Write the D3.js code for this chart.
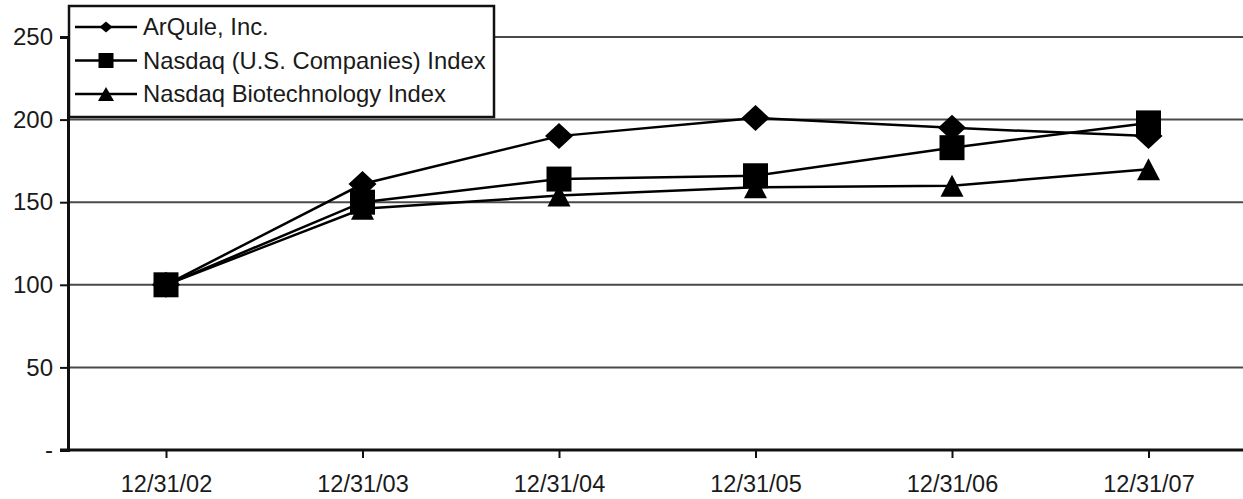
<!DOCTYPE html>
<meta charset="utf-8">
<style>
  body { margin: 0; background: #fff; }
  text { font-family: "Liberation Sans", Arial, sans-serif; fill: #1a1a1a; }
  .grid line { stroke: #4a4a4a; stroke-width: 2; }
  .series .ln { fill: none; stroke: #000; stroke-width: 2.5; }
</style>
<body>
<script src="https://cdn.jsdelivr.net/npm/d3@7/dist/d3.min.js"></script>
<script>

  var dates = ["12/31/02", "12/31/03", "12/31/04", "12/31/05", "12/31/06", "12/31/07"];
  var arqule = [100, 161, 190, 201, 195, 190];
  var nasdaq = [100, 150, 164, 166, 183, 198];
  var biotech = [100, 146, 154, 159, 160, 170];
  var yTicks = [0, 50, 100, 150, 200, 250];

  // marker shapes: width, height
  function diamond(w, h) { return "M0," + (-h/2) + "L" + (w/2) + ",0L0," + (h/2) + "L" + (-w/2) + ",0Z"; }
  function square(w, h) { return "M" + (-w/2) + "," + (-h/2) + "h" + w + "v" + h + "h" + (-w) + "Z"; }
  function triangle(w, h) { return "M0," + (-h/2) + "L" + (w/2) + "," + (h/2) + "L" + (-w/2) + "," + (h/2) + "Z"; }

  var series = [
    {name: "Nasdaq Biotechnology Index", values: biotech, shape: triangle, mk: [23, 22], leg: [16, 14]},
    {name: "Nasdaq (U.S. Companies) Index", values: nasdaq, shape: square, mk: [25, 25], leg: [15, 15]},
    {name: "ArQule, Inc.", values: arqule, shape: diamond, mk: [28, 26], leg: [13, 11]}
  ];
  var legendOrder = [series[2], series[1], series[0]];

  var W = 1243, H = 499;
  var left = 68, bottom = 450;

  var svg = d3.select("body").append("svg").attr("width", W).attr("height", H);

  var x = d3.scalePoint().domain(dates).range([166, 1148.5]);
  var y = d3.scaleLinear().domain([0, 250]).range([bottom, 37]);

  // gridlines
  svg.append("g").attr("class", "grid")
    .selectAll("line").data(yTicks.filter(d => d > 0)).enter().append("line")
    .attr("x1", left).attr("x2", W)
    .attr("y1", d => y(d)).attr("y2", d => y(d));

  // y axis
  var yAxis = svg.append("g").attr("transform", "translate(" + left + ",0)")
    .call(d3.axisLeft(y).tickValues(yTicks).tickSize(8).tickPadding(7)
      .tickFormat(d => d === 0 ? "-" : d));
  yAxis.select(".domain").attr("stroke", "#111").attr("stroke-width", 3);
  yAxis.selectAll(".tick line").attr("stroke", "#111").attr("stroke-width", 2);
  yAxis.selectAll("text").style("font-size", "24px");

  // x axis
  var xAxis = svg.append("g").attr("transform", "translate(0," + bottom + ")")
    .call(d3.axisBottom(x).tickSize(8).tickPadding(17));
  xAxis.select(".domain").attr("d", "M" + (left - 8) + ",0H" + W).attr("stroke", "#111").attr("stroke-width", 3);
  xAxis.selectAll(".tick line").attr("stroke", "#111").attr("stroke-width", 2);
  xAxis.selectAll("text").style("font-size", "23.5px");

  var line = d3.line().x((d, i) => x(dates[i])).y(d => y(d));

  var sg = svg.selectAll(".series").data(series).enter().append("g").attr("class", "series");
  sg.append("path").attr("class", "ln").attr("d", d => line(d.values));
  sg.each(function(s) {
    d3.select(this).selectAll(".mk").data(s.values).enter().append("path")
      .attr("class", "mk")
      .attr("d", s.shape(s.mk[0], s.mk[1]))
      .attr("transform", (d, i) => "translate(" + x(dates[i]) + "," + y(d) + ")")
      .attr("fill", "#000");
  });

  // legend
  var lg = svg.append("g");
  lg.append("rect").attr("x", 69).attr("y", 6).attr("width", 425).attr("height", 111)
    .attr("fill", "#fff").attr("stroke", "#111").attr("stroke-width", 2.5);
  var rows = lg.selectAll(".row").data(legendOrder).enter().append("g")
    .attr("transform", (d, i) => "translate(0," + (27 + i * 33.5) + ")");
  rows.append("line").attr("x1", 75).attr("x2", 137).attr("stroke", "#000").attr("stroke-width", 2.5);
  rows.append("path").attr("d", d => d.shape(d.leg[0], d.leg[1]))
    .attr("transform", "translate(106,0)").attr("fill", "#000");
  rows.append("text").attr("x", 143).attr("y", 8).style("font-size", "23.8px").text(d => d.name);

</script>
</body>
